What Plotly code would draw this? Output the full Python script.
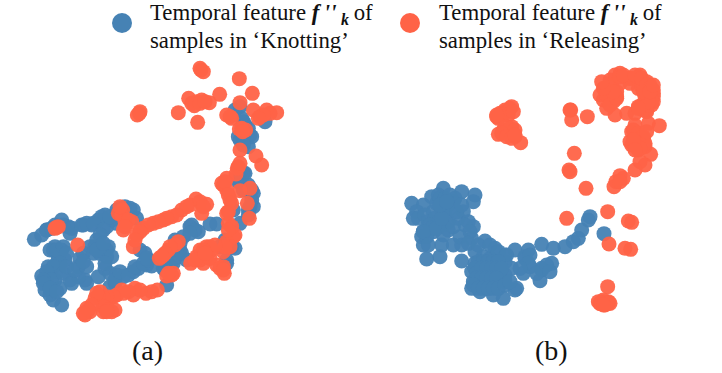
import plotly.graph_objects as go

W, H = 722, 373
BLUE = "#4682B4"
RED = "#FF6347"

a_blue_x = [103,125,140,165,185,205,210,165,185,160,195,175,170,145,125,150,175,165,135,150,160,185,180,210,235,255,260,235,295,315,320,300,325,290,270,250,240,250,275,295,315,320,335,350,375,400,410,350,330,350,370,400,415,440,455,435,330,345,500,495,505,525,530,525,550,570,595,630,650,720,700,675,705,680,560,720,745,760,760,745,730,720,725,735,750,720,745,795,
            150,170,190,200,180,160,140,155,130,190,200,215,225,130,150,170,140,155,190,215,245,260,305,280,310,300,285,280,300,320,335,315,260,250,290,310,330,360,390,345,360,385,405,430,445,420,440,490,520,540,545,575,585,570,540,510,660,680,695,720,735,715,730,755,755,750,745,705,730,745,715,730,755,730]
a_blue_y = [568,555,540,525,510,530,550,590,600,600,630,620,640,650,678,670,665,690,720,735,750,765,715,690,650,690,700,680,680,655,620,590,590,570,590,610,625,525,525,510,495,530,510,480,470,480,505,520,670,675,680,665,655,645,648,610,710,700,705,660,640,625,600,570,560,530,545,522,522,520,480,570,595,640,630,395,405,430,470,495,370,170,205,225,255,270,290,215,
            600,600,590,610,640,650,665,690,690,670,650,700,660,700,715,725,540,535,525,535,525,520,500,520,540,555,590,610,610,600,620,640,650,635,600,580,500,475,475,690,665,675,650,640,630,600,625,655,640,600,610,525,540,550,580,650,590,630,590,370,370,395,420,420,450,470,480,180,215,235,260,265,260,285]
a_red_x = [603,718,757,659,566,590,605,628,583,720,418,535,593,690,760,780,800,830,718,737,720,768,785,715,708,680,670,680,750,720,690,742,685,748,685,705,680,670,588,620,605,570,545,515,490,460,430,410,400,368,355,375,395,370,170,233,535,505,490,478,520,500,630,600,590,610,572,650,670,673,472,438,405,400,365,350,330,300,285,335,310,270,255,260,320,
           420,412,600,610,575,600,615,695,680,810,790,775,725,728,712,720,665,675,685,695,680,700,695,685,690,675,600,610,560,530,500,475,445,420,405,365,385,375,360,175,165,525,510,495,485,515,505,620,635,645,610,620,600,585,630,615,660,670,455,420,385,370,340,320,310,295,310,325,290,275,265,250,345,320]
a_red_y = [60,86,130,133,145,155,150,158,167,158,190,188,217,200,180,200,180,188,237,240,300,318,345,350,372,385,405,420,415,422,450,460,485,505,520,555,575,605,447,463,490,465,480,500,510,520,535,555,590,480,490,515,515,540,532,585,575,600,615,625,670,678,590,600,620,640,640,645,650,670,720,730,715,735,720,735,745,725,745,785,785,785,795,775,760,
           185,195,55,65,160,160,155,205,195,190,195,205,235,245,355,340,400,395,435,460,490,560,530,540,590,590,455,470,470,495,505,515,525,545,570,495,510,530,470,530,535,585,590,610,620,675,670,590,600,585,600,620,630,630,625,610,655,660,725,720,725,730,740,740,745,740,770,780,730,765,780,790,780,785]

b_blue_x = [65,100,80,70,125,160,140,215,255,250,220,190,165,130,150,175,205,235,250,100,95,100,130,160,110,150,155,190,215,245,255,285,315,345,375,415,405,455,490,525,550,565,575,595,600,642,485,455,450,420,400,345,325,300,280,255,245,215,250,265,290,310,340,375,380,345,310,270,255,275,300,330,245,270,290,305,320,
            85,105,115,145,150,165,180,195,170,155,140,135,120,125,110,100,115,180,200,215,225,240,160,140,175,190,155,150,170,210,235,265,300,325,345,350,405,420,415,390,365,455,440,470,480,265,280,295,310,325,255,260,275,290,305,320,335,260,275,290,305,320,250,265,280,295,310,325,345,360]
b_blue_y = [445,450,470,490,425,400,445,410,420,440,470,440,480,470,510,500,490,500,515,530,545,570,530,540,612,605,570,570,570,550,590,558,580,600,585,585,610,568,580,575,560,550,525,495,485,536,625,645,677,635,655,660,620,610,605,625,650,618,680,690,700,720,730,705,700,680,680,665,640,640,650,660,700,710,690,670,630,
            490,480,500,420,430,430,420,430,455,465,500,490,510,520,545,530,570,460,470,450,510,530,510,520,525,515,490,450,440,545,565,570,570,590,620,600,605,600,625,640,640,640,655,630,650,620,620,620,620,620,640,655,640,640,640,640,640,670,670,670,670,670,690,700,700,700,700,700,690,680]
b_red_x = [330,345,365,320,365,370,340,325,375,392,542,545,592,553,540,537,588,530,653,715,725,657,705,722,653,630,645,655,640,660,690,720,745,770,745,790,630,645,660,690,720,750,780,790,785,770,640,650,675,710,735,770,765,720,755,680,670,725,735,760,775,808,720,745,765,725,745,782,765,750,735,690,678,672,
           330,345,360,325,340,355,370,345,360,375,335,350,365,375,320,540,630,640,655,625,640,675,665,680,690,700,735,755,770,780,785,790,790,770,755,745,760,775,785,650,660,680,670,640,635,775,760,745,780,790,730,745,760,765,770,750,730,735,700,690]
b_red_y = [180,170,155,185,215,235,225,238,245,263,165,195,185,295,350,345,400,490,470,498,502,567,580,583,695,745,750,740,735,745,55,70,65,80,100,105,120,100,75,85,70,60,90,125,150,165,135,160,180,175,175,170,125,85,95,125,140,230,210,250,205,212,260,265,275,270,285,298,330,320,345,362,380,395,
           175,165,160,190,180,180,170,215,220,225,235,245,250,240,180,165,745,740,745,740,750,60,90,110,65,60,60,70,90,100,120,140,115,130,150,155,165,150,135,120,150,130,110,100,80,140,110,160,110,90,225,235,245,265,230,280,255,285,370,380]

legend_x = [122, 410]
legend_y = [23, 23]
line1 = "Temporal feature <b><i>f&#8201;''</i></b>&#8201;<b><i><sub>k</sub></i></b>&#8201;of"
legend_line1 = [line1, line1]
legend_line2 = ["samples in ‘Knotting’", "samples in ‘Releasing’"]
panel_labels = ["(a)", "(b)"]

fig = go.Figure()
ms = 15
op = 0.95
fig.add_trace(go.Scatter(x=a_blue_x, y=a_blue_y, mode="markers", marker=dict(size=ms, color=BLUE, opacity=op), xaxis="x", yaxis="y", showlegend=False))
fig.add_trace(go.Scatter(x=a_red_x, y=a_red_y, mode="markers", marker=dict(size=ms, color=RED, opacity=op), xaxis="x", yaxis="y", showlegend=False))
fig.add_trace(go.Scatter(x=b_blue_x, y=b_blue_y, mode="markers", marker=dict(size=ms, color=BLUE, opacity=op), xaxis="x2", yaxis="y2", showlegend=False))
fig.add_trace(go.Scatter(x=b_red_x, y=b_red_y, mode="markers", marker=dict(size=ms, color=RED, opacity=op), xaxis="x2", yaxis="y2", showlegend=False))
fig.add_trace(go.Scatter(x=legend_x[:1], y=legend_y[:1], mode="markers", marker=dict(size=20, color=BLUE), xaxis="x3", yaxis="y3", showlegend=False))
fig.add_trace(go.Scatter(x=legend_x[1:], y=legend_y[1:], mode="markers", marker=dict(size=20, color=RED), xaxis="x3", yaxis="y3", showlegend=False))

hidden = dict(visible=False, showgrid=False, zeroline=False)
fig.update_layout(
    width=W, height=H, margin=dict(l=0, r=0, t=0, b=0),
    paper_bgcolor="white", plot_bgcolor="rgba(0,0,0,0)", showlegend=False,
    font=dict(family="Liberation Serif", color="#111111"),
    xaxis=dict(domain=[0, 300/W], range=[0, 900], **hidden),
    yaxis=dict(domain=[1-340/H, 1-50/H], range=[870, 0], **hidden),
    xaxis2=dict(domain=[390/W, 680/W], range=[0, 870], **hidden),
    yaxis2=dict(domain=[1-325/H, 1-55/H], range=[810, 0], **hidden),
    xaxis3=dict(domain=[0, 1], range=[0, W], **hidden),
    yaxis3=dict(domain=[0, 1], range=[H, 0], **hidden),
)
for i, x0 in enumerate([148, 437]):
    fig.add_annotation(xref="paper", yref="paper", x=x0/W, y=1-14/H, text=legend_line1[i], showarrow=False, xanchor="left", yanchor="middle", font=dict(size=22.8))
    fig.add_annotation(xref="paper", yref="paper", x=x0/W, y=1-41/H, text=legend_line2[i], showarrow=False, xanchor="left", yanchor="middle", font=dict(size=22.8))
for lab, cx in zip(panel_labels, [147, 551]):
    fig.add_annotation(xref="paper", yref="paper", x=cx/W, y=1-350/H, text=lab, showarrow=False, xanchor="center", yanchor="middle", font=dict(size=28))
fig.write_html("out.html", config={"displayModeBar": False}, post_script="document.body.style.margin='0';document.documentElement.style.overflow='hidden';")
